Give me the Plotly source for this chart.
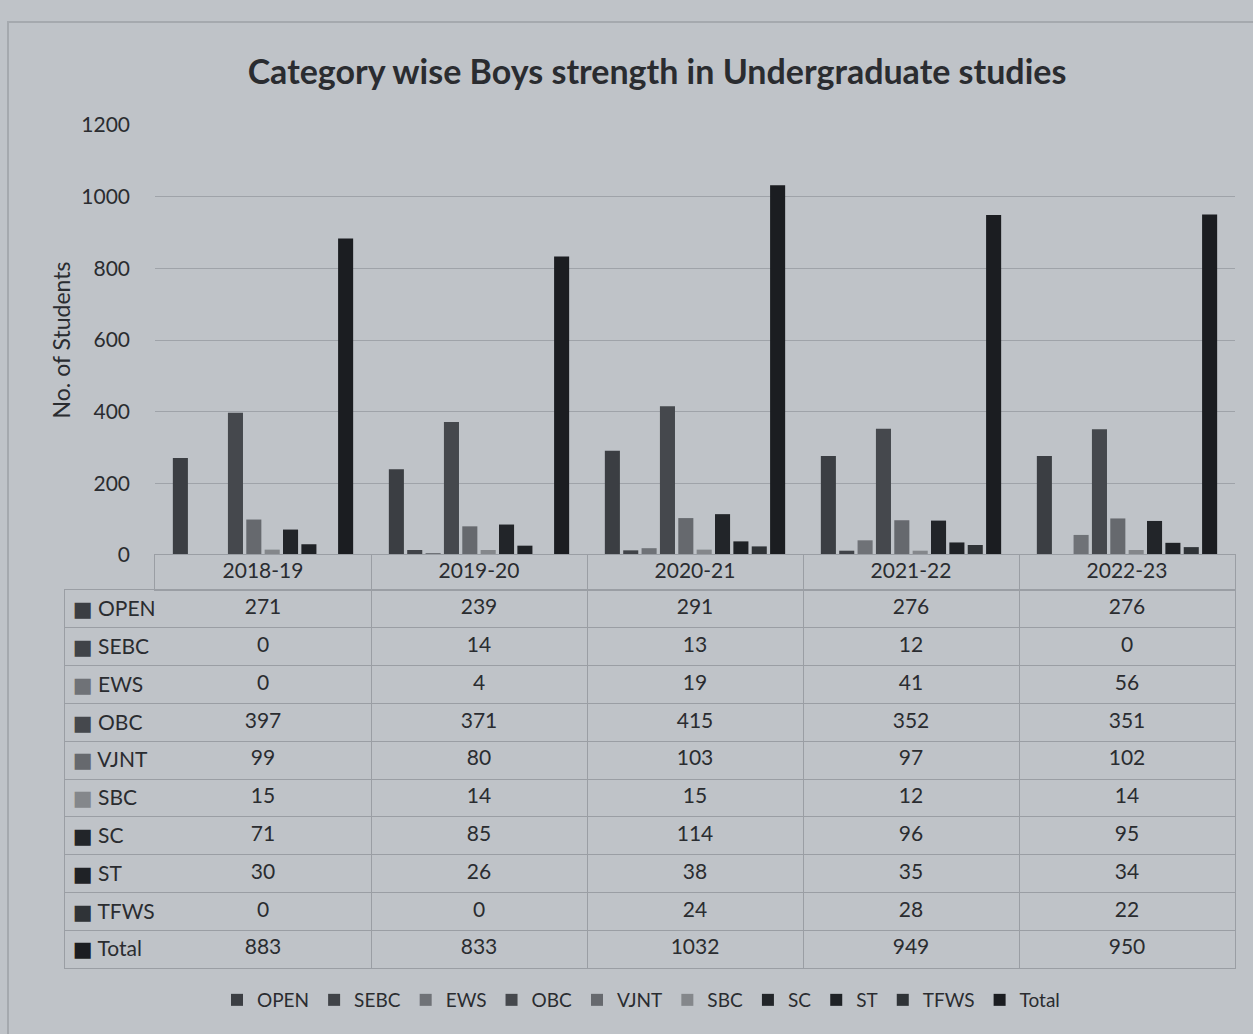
import plotly.graph_objects as go

years = ["2018-19", "2019-20", "2020-21", "2021-22", "2022-23"]
categories = ["OPEN", "SEBC", "EWS", "OBC", "VJNT", "SBC", "SC", "ST", "TFWS", "Total"]
open_v = [271, 239, 291, 276, 276]
sebc_v = [0, 14, 13, 12, 0]
ews_v = [0, 4, 19, 41, 56]
obc_v = [397, 371, 415, 352, 351]
vjnt_v = [99, 80, 103, 97, 102]
sbc_v = [15, 14, 15, 12, 14]
sc_v = [71, 85, 114, 96, 95]
st_v = [30, 26, 38, 35, 34]
tfws_v = [0, 0, 24, 28, 22]
total_v = [883, 833, 1032, 949, 950]
y_ticks = [0, 200, 400, 600, 800, 1000, 1200]

series = [open_v, sebc_v, ews_v, obc_v, vjnt_v, sbc_v, sc_v, st_v, tfws_v, total_v]
colors = ["#3b3e43", "#404348", "#6f7277", "#45484d", "#66696e", "#84878b",
          "#222529", "#1f2226", "#2f3337", "#1b1d21"]

W, H = 1253, 1034
def px_x(p): return p / W
def px_y(p): return 1 - p / H

bg = "#bfc3c8"
grid = "#9a9ea4"
font_fam = "Lato, 'Open Sans', sans-serif"
txt = "#2a2c30"
label_frac = 90 / 216  # label column width relative to one category column

fig = go.Figure()
for name, vals, c in zip(categories, series, colors):
    fig.add_trace(go.Bar(name=name, x=years, y=vals, marker_color=c,
                         marker_line_width=0, xaxis="x", yaxis="y"))

# ---- data table body (values) ----
tx, ty, tt = [], [], []
for cat, vals in zip(categories, series):
    for yr, v in zip(years, vals):
        tx.append(yr); ty.append(cat); tt.append(str(v))
fig.add_trace(go.Scatter(x=tx, y=ty, text=tt, mode="text", xaxis="x2", yaxis="y2",
                         textfont=dict(family=font_fam, size=21, color=txt),
                         showlegend=False, hoverinfo="skip"))
# ---- table header (years) ----
fig.add_trace(go.Scatter(x=years, y=[0.5] * len(years), text=years, mode="text",
                         xaxis="x3", yaxis="y3",
                         textfont=dict(family=font_fam, size=21, color=txt),
                         showlegend=False, hoverinfo="skip"))

label_text = [f"<span style='color:{c};font-family:DejaVu Sans'>■</span> {n}"
              for n, c in zip(categories, colors)]

fig.update_layout(
    width=W, height=H,
    margin=dict(l=0, r=0, t=0, b=0, autoexpand=False),
    paper_bgcolor=bg, plot_bgcolor=bg,
    barmode="group", bargap=0.15, bargroupgap=0.18,
    title=dict(text="<b>Category wise Boys strength in Undergraduate studies</b>",
               x=px_x(657), xanchor="center", y=px_y(72), yanchor="middle",
               font=dict(family=font_fam, size=34, color=txt)),
    xaxis=dict(domain=[px_x(155), px_x(1235)], anchor="y", showticklabels=False,
               showgrid=False, zeroline=False, showline=False, ticks="",
               automargin=False),
    yaxis=dict(domain=[px_y(555), px_y(125)], anchor="x", range=[0, 1200],
               tickvals=y_ticks, showgrid=True, gridcolor="#9fa3a9", gridwidth=1,
               zeroline=False, showline=False, automargin=False,
               ticklabelstandoff=24,
               tickfont=dict(family=font_fam, size=21, color=txt),
               title=dict(text="No. of Students", standoff=4,
                          font=dict(family=font_fam, size=23, color=txt))),
    xaxis2=dict(domain=[px_x(65), px_x(1235)], anchor="y2", type="category",
                categoryorder="array", categoryarray=years,
                range=[-0.5 - label_frac, len(years) - 0.5],
                tickson="boundaries", showgrid=True, gridcolor=grid,
                showticklabels=False, ticks="", zeroline=False,
                showline=True, mirror=True, linecolor=grid, linewidth=1,
                automargin=False),
    yaxis2=dict(domain=[px_y(968), px_y(590)], anchor="x2", type="category",
                categoryorder="array", categoryarray=categories,
                range=[len(categories) - 0.5, -0.5],
                tickson="boundaries", showgrid=True, gridcolor=grid,
                tickmode="array", tickvals=categories, ticktext=label_text,
                ticklabelposition="inside", ticklabelstandoff=9, ticks="",
                tickfont=dict(family=font_fam, size=21, color=txt),
                zeroline=False, showline=True, mirror=True, linecolor=grid,
                linewidth=1, automargin=False),
    xaxis3=dict(domain=[px_x(155), px_x(1235)], anchor="y3", type="category",
                categoryorder="array", categoryarray=years,
                range=[-0.5, len(years) - 0.5],
                tickson="boundaries", showgrid=True, gridcolor=grid,
                showticklabels=False, ticks="", zeroline=False,
                showline=True, mirror=True, linecolor=grid, linewidth=1,
                automargin=False),
    yaxis3=dict(domain=[px_y(590), px_y(555)], anchor="x3", range=[0, 1],
                showgrid=False, showticklabels=False, ticks="", zeroline=False,
                showline=True, mirror=True, linecolor=grid, linewidth=1,
                automargin=False),
    legend=dict(orientation="h", x=px_x(641), xanchor="center",
                y=px_y(1000), yanchor="middle",
                font=dict(family=font_fam, size=19, color=txt),
                itemwidth=30, tracegroupgap=0),
    showlegend=True,
)
fig.add_shape(type="rect", xref="paper", yref="paper",
              x0=px_x(8), x1=1.01, y0=-0.01, y1=px_y(22),
              line=dict(color="#a5a9ae", width=2), fillcolor="rgba(0,0,0,0)", layer="below")

fig.write_html("out.html", config={"displayModeBar": False})
with open("out.html", "r", encoding="utf-8") as f:
    html = f.read()
html = html.replace("<body>", "<body style='margin:0;overflow:hidden'>", 1)
with open("out.html", "w", encoding="utf-8") as f:
    f.write(html)
